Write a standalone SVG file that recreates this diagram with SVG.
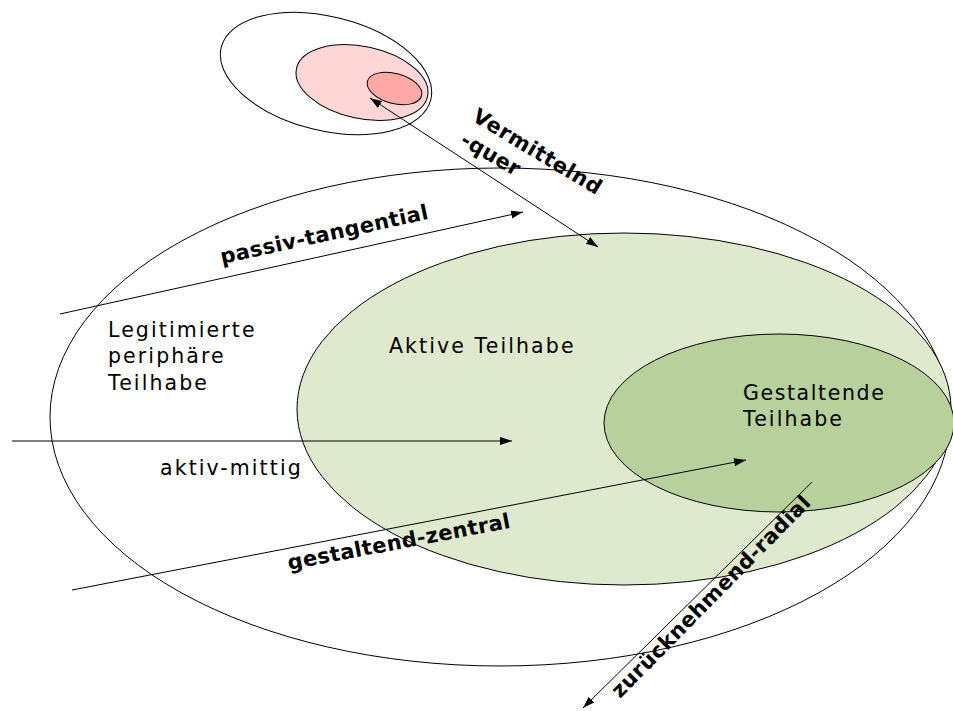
<svg xmlns="http://www.w3.org/2000/svg" width="953" height="711" viewBox="0 0 953 711">
<defs>
<style>
.ol{stroke:#000;stroke-width:1}
.lbl{font-family:"DejaVu Sans","Verdana",sans-serif;font-size:20.5px;letter-spacing:2.1px;fill:#000}
.blb{font-family:"DejaVu Sans","Verdana",sans-serif;font-size:21px;font-weight:bold;letter-spacing:0.4px;fill:#000}
.con{stroke:#000;stroke-width:1;fill:none}
</style>
<marker id="ah" markerUnits="userSpaceOnUse" markerWidth="13" markerHeight="9" refX="12" refY="4" orient="auto-start-reverse">
<path d="M0,0 L12,4 L0,8 z" fill="#000"/>
</marker>
</defs>
<rect width="953" height="711" fill="#fff"/>
<g id="legitimierte">
<ellipse class="ol" cx="500" cy="417" rx="450" ry="249" fill="none"/>
<text class="lbl" x="108" y="337">Legitimierte</text>
<text class="lbl" x="108" y="363">periphäre</text>
<text class="lbl" x="108" y="390">Teilhabe</text>
</g>
<g id="aktive">
<ellipse class="ol" cx="624" cy="409" rx="327" ry="176" fill="#DEE9CD"/>
<text class="lbl" x="389" y="353">Aktive Teilhabe</text>
</g>
<g id="gestaltende">
<ellipse class="ol" cx="779" cy="423" rx="175" ry="89" fill="#B8D09B"/>
<text class="lbl" x="743" y="400" style="letter-spacing:1.6px">Gestaltende</text>
<text class="lbl" x="743" y="426">Teilhabe</text>
</g>
<g id="extern">
<ellipse class="ol" cx="0" cy="0" rx="108" ry="57" fill="none" transform="translate(326 73.5) rotate(14)"/>
<ellipse class="ol" cx="0" cy="0" rx="67" ry="36" fill="#FFD6D6" transform="translate(362 82.5) rotate(12)"/>
<ellipse class="ol" cx="0" cy="0" rx="28" ry="15" fill="#FFA8A8" transform="translate(394.5 88.5) rotate(15)"/>
</g>
<g id="connectors">
<line class="con" x1="60" y1="314" x2="523" y2="212" marker-end="url(#ah)"/>
<line class="con" x1="12" y1="441" x2="512" y2="441" marker-end="url(#ah)"/>
<line class="con" x1="72" y1="590" x2="746" y2="460" marker-end="url(#ah)"/>
<line class="con" x1="370" y1="98" x2="598" y2="247" marker-start="url(#ah)" marker-end="url(#ah)"/>
<line class="con" x1="812" y1="482" x2="583" y2="708" marker-end="url(#ah)"/>
</g>
<g id="labels">
<text class="lbl" x="160" y="475">aktiv-mittig</text>
<text class="blb" transform="translate(222 264) rotate(-12.3)">passiv-tangential</text>
<text class="blb" transform="translate(471 120) rotate(31)" style="letter-spacing:0.6px">Vermittelnd</text>
<text class="blb" transform="translate(459 144) rotate(30)">-quer</text>
<text class="blb" transform="translate(289 570) rotate(-10.8)">gestaltend-zentral</text>
<text class="blb" transform="translate(620 699) rotate(-45.5)">zurücknehmend-radial</text>
</g>
</svg>
